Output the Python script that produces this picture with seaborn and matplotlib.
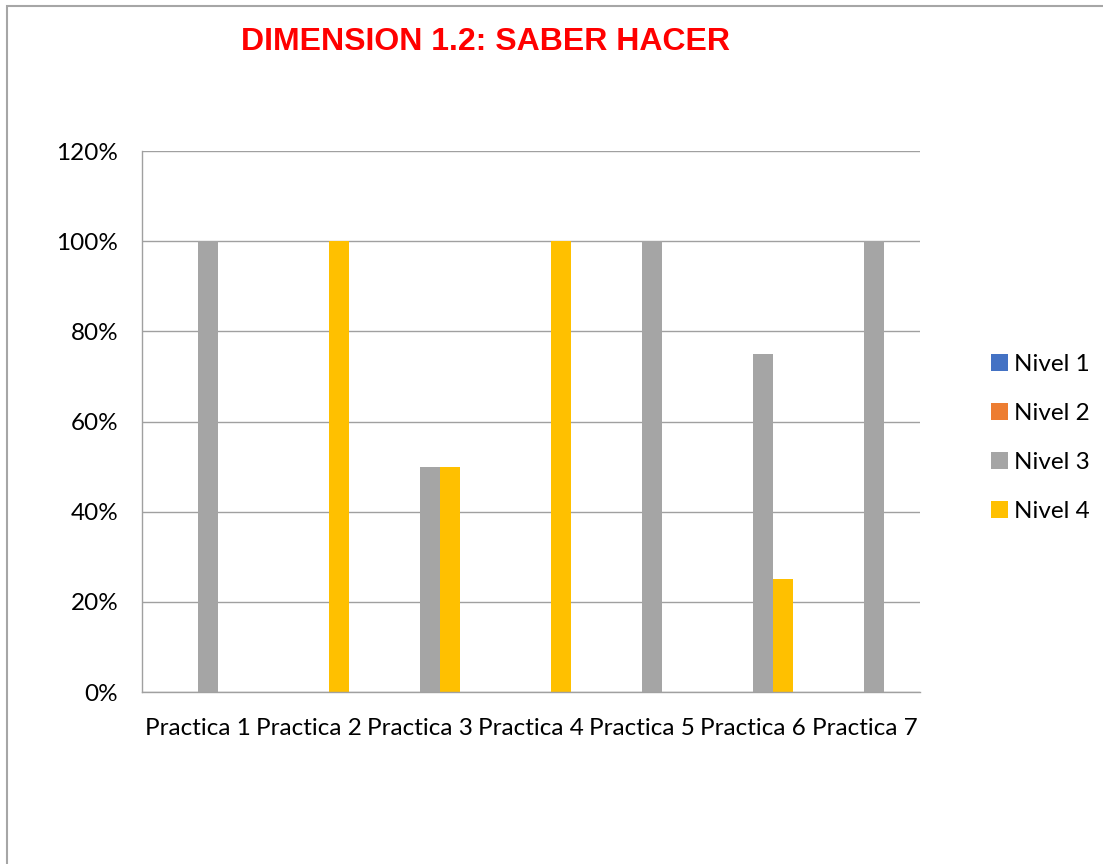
import numpy as np
import pandas as pd
import matplotlib
matplotlib.use("Agg")
import matplotlib.pyplot as plt
import matplotlib.patches as mpatches
from matplotlib.ticker import PercentFormatter, FixedLocator
import seaborn as sns

# data
practicas = ['Practica 1', 'Practica 2', 'Practica 3', 'Practica 4',
             'Practica 5', 'Practica 6', 'Practica 7']
niveles = ['Nivel 1', 'Nivel 2', 'Nivel 3', 'Nivel 4']
nivel_1 = [0, 0, 0, 0, 0, 0, 0]
nivel_2 = [0, 0, 0, 0, 0, 0, 0]
nivel_3 = [1.00, 0, 0.50, 0, 1.00, 0.75, 1.00]
nivel_4 = [0, 1.00, 0.50, 1.00, 0, 0.25, 0]
colores = ['#4472C4', '#ED7D31', '#A5A5A5', '#FFC000']

df = pd.DataFrame({'Practica': practicas * 4,
                   'Nivel': np.repeat(niveles, len(practicas)),
                   'valor': nivel_1 + nivel_2 + nivel_3 + nivel_4})

sns.set_style('white')
plt.rcParams['font.family'] = ['Lato', 'DejaVu Sans']
plt.rcParams['text.color'] = 'black'
plt.rcParams['xtick.labelcolor'] = 'black'
plt.rcParams['ytick.labelcolor'] = 'black'

fig = plt.figure(figsize=(11.03, 8.64), dpi=100)
ax = fig.add_axes([0.1287, 0.199, 0.7054, 0.6262])

sns.barplot(data=df, x='Practica', y='valor', hue='Nivel', palette=colores,
            saturation=1, width=0.72, gap=0, linewidth=0, ax=ax)

grid_c = '#A0A0A0'
ax.set_ylim(0, 1.2)
ax.set_xlim(-0.5, 6.5)
ax.set_yticks(np.arange(0, 1.21, 0.2))
ax.yaxis.set_major_formatter(PercentFormatter(1.0, decimals=0))
ax.grid(axis='y', color=grid_c, linewidth=1)
ax.set_axisbelow(True)
ax.set_xlabel('')
ax.set_ylabel('')
for s in ['top', 'right']:
    ax.spines[s].set_visible(False)
for s in ['left', 'bottom']:
    ax.spines[s].set_color(grid_c)
    ax.spines[s].set_linewidth(1)

ax.tick_params(axis='y', length=6, color=grid_c, pad=11, labelsize=17.5)
ax.tick_params(axis='x', which='major', length=0, pad=19, labelsize=17.5)
ax.xaxis.set_minor_locator(FixedLocator(np.arange(-0.5, 7, 1)))
ax.tick_params(axis='x', which='minor', length=6, color=grid_c)

handles, labels = ax.get_legend_handles_labels()
ax.legend(handles, labels, loc='center left', bbox_to_anchor=(0.879, 0.493),
          bbox_transform=fig.transFigure, frameon=False, fontsize=17.5,
          handlelength=0.68, handleheight=0.68, handletextpad=0.25,
          labelspacing=1.15)

fig.text(0.44, 0.951, 'DIMENSION 1.2: SABER HACER', color='#FF0000',
         fontsize=23, fontweight='bold', family='Liberation Sans',
         ha='center', va='center')

# outer chart border (only top and left fall inside the image)
fig.patches.append(mpatches.Rectangle((7 / 1103, -0.1), 2, 1.1 - 6 / 864,
                                      transform=fig.transFigure, fill=False,
                                      edgecolor='#A6A6A6', linewidth=1.5))

fig.savefig('out.png', dpi=100)
